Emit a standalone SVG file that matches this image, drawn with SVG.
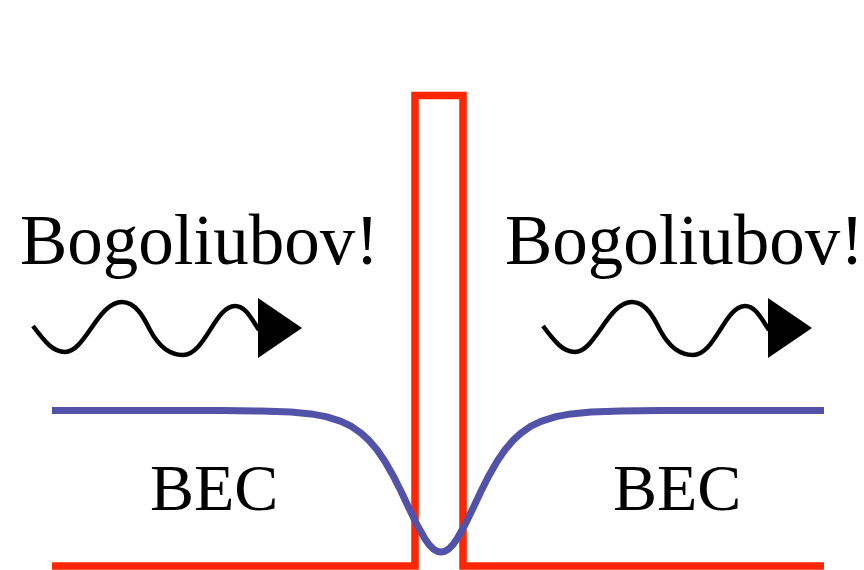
<svg xmlns="http://www.w3.org/2000/svg" width="864" height="570" viewBox="0 0 864 570">
<style>
.lbl{font-family:"Liberation Serif","Times New Roman",serif;fill:#000}
.wave{fill:none;stroke:#000;stroke-width:4.5;stroke-linecap:butt;stroke-linejoin:round}
.head{fill:#000}
</style>
<defs>
<g id="arrow">
<path class="wave" d="M33,326 C45,342 53,352 65,352 C85,352 98,302 122,302 C136,302 144,318 150,330 C158,345 168,355 183,355 C205,355 215,306 235,306 C246,306 252,320 259,330"/>
<polygon class="head" points="258,298 302,328 258,358"/>
</g>
</defs>
<rect width="864" height="570" fill="#fff"/>
<g id="connectors">
<path id="barrier" d="M52,566 H415 V95.5 H463 V566 H824" fill="none" stroke="#ff2600" stroke-width="7.5" stroke-linejoin="miter"/>
<path id="condensate" fill="none" stroke="#5252a8" stroke-width="7" stroke-linejoin="round" d="M52,410.5 L221,410.6 L261,411 L291,412.1 L311,413.9 L326,416.6 L341,421.3 L351,426.2 L361,433.1 L369,440.4 L377,449.8 L385,461.5 L393,475.4 L401,491.3 L409,508.2 L417,524.8 L425,538.9 Q433,552 441,552 Q449,552 457,538.9 L465,524.8 L473,508.2 L481,491.3 L489,475.4 L497,461.5 L505,449.8 L513,440.4 L521,433.1 L531,426.2 L541,421.3 L556,416.6 L571,413.9 L591,412.1 L621,411 L661,410.6 L824,410.5"/>
</g>
<g id="wave-left"><use href="#arrow"/></g>
<g id="wave-right"><use href="#arrow" x="510"/></g>
<g id="label-left"><text class="lbl" x="20" y="264" font-size="71">Bogoliubov!</text></g>
<g id="label-right"><text class="lbl" x="505" y="264" font-size="71">Bogoliubov!</text></g>
<g id="bec-left"><text class="lbl" x="150" y="510" font-size="66">BEC</text></g>
<g id="bec-right"><text class="lbl" x="613" y="510" font-size="66">BEC</text></g>
</svg>
